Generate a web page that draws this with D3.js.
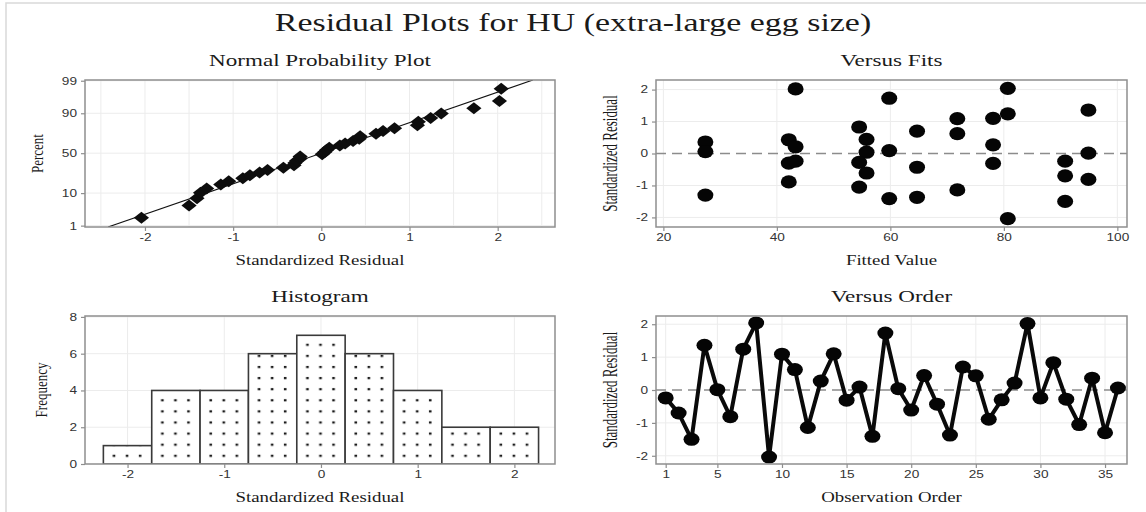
<!DOCTYPE html>
<html>
<head>
<meta charset="utf-8">
<script src="https://cdn.jsdelivr.net/npm/d3@7/dist/d3.min.js"></script>
<style>
  html, body { margin: 0; padding: 0; background: #fff; }
  svg { display: block; }
</style>
</head>
<body>
<svg id="chart" width="1146" height="512"></svg>
<script>
// ---- data -------------------------------------------------------------
// standardized residuals, listed in observation order
const observations = d3.range(1, 37);
const residuals = [-0.24, -0.70, -1.50, 1.36, 0.01, -0.81, 1.24, 2.04, -2.04,
                   1.09, 0.62, -1.14, 0.27, 1.10, -0.31, 0.09, -1.41, 1.73,
                   0.04, -0.61, 0.44, -0.43, -1.37, 0.70, 0.43, -0.89, -0.30,
                   0.21, 2.02, -0.24, 0.83, -0.28, -1.05, 0.36, -1.30, 0.06];
// fitted value of each observation
const fittedValues = [90.8, 90.8, 90.8, 94.9, 94.9, 94.9, 80.7, 80.7, 80.7,
                      71.8, 71.8, 71.8, 78.1, 78.1, 78.1, 59.8, 59.8, 59.8,
                      55.8, 55.8, 55.8, 64.7, 64.7, 64.7, 42.1, 42.1, 42.1,
                      43.3, 43.3, 43.3, 54.5, 54.5, 54.5, 27.4, 27.4, 27.4];
// histogram bins (midpoints, width 0.5) and their counts
const binMids = [-2, -1.5, -1, -0.5, 0, 0.5, 1, 1.5, 2];
const binCounts = [1, 4, 4, 6, 7, 6, 4, 2, 2];

// tick labels
const percentTicks = [1, 10, 50, 90, 99];
const residualXTicks = [-2, -1, 0, 1, 2];
const residualYTicks = [-2, -1, 0, 1, 2];
const fitTicks = [20, 40, 60, 80, 100];
const orderTicks = [1, 5, 10, 15, 20, 25, 30, 35];
const freqTicks = [0, 2, 4, 6, 8];

// ---- helpers ----------------------------------------------------------
// inverse standard normal CDF (Acklam's rational approximation)
function probit(p) {
  const a = [-3.969683028665376e+01, 2.209460984245205e+02, -2.759285104469687e+02,
             1.383577518672690e+02, -3.066479806614716e+01, 2.506628277459239e+00];
  const b = [-5.447609879822406e+01, 1.615858368580409e+02, -1.556989798598866e+02,
             6.680131188771972e+01, -1.328068155288572e+01];
  const c = [-7.784894002430293e-03, -3.223964580411365e-01, -2.400758277161838e+00,
             -2.549732539343734e+00, 4.374664141464968e+00, 2.938163982698783e+00];
  const d = [7.784695709041462e-03, 3.224671290700398e-01, 2.445134137142996e+00,
             3.754408661907416e+00];
  const pl = 0.02425, ph = 1 - pl;
  let q, r;
  if (p < pl) {
    q = Math.sqrt(-2 * Math.log(p));
    return (((((c[0]*q+c[1])*q+c[2])*q+c[3])*q+c[4])*q+c[5]) / ((((d[0]*q+d[1])*q+d[2])*q+d[3])*q+1);
  }
  if (p <= ph) {
    q = p - 0.5; r = q * q;
    return (((((a[0]*r+a[1])*r+a[2])*r+a[3])*r+a[4])*r+a[5])*q / (((((b[0]*r+b[1])*r+b[2])*r+b[3])*r+b[4])*r+1);
  }
  q = Math.sqrt(-2 * Math.log(1 - p));
  return -(((((c[0]*q+c[1])*q+c[2])*q+c[3])*q+c[4])*q+c[5]) / ((((d[0]*q+d[1])*q+d[2])*q+d[3])*q+1);
}

const SERIF = "'Liberation Serif', 'Times New Roman', serif";
const SANS = "'Liberation Sans', Arial, sans-serif";
const GRID = "#ececec";
const FRAME = "#8e8e8e";
const TICK_SX = 1.3;       // horizontal stretch of tick labels
const svg = d3.select("#chart");
const W = 1146, H = 512;

function addText(parent, str, x, y, o) {
  const tf = `translate(${x},${y}) scale(${o.sx || 1},1)` + (o.rotate ? " rotate(-90)" : "");
  return parent.append("text")
    .attr("transform", tf)
    .attr("text-anchor", o.anchor || "middle")
    .attr("dy", o.dy || null)
    .style("font-family", o.family || SERIF)
    .style("font-size", o.size + "px")
    .attr("fill", o.fill || "#1a1a1a")
    .text(str);
}

function styleAxis(sel, orient) {
  sel.select(".domain").remove();
  sel.selectAll(".tick line").attr("stroke", FRAME).attr("stroke-width", 1.2);
  const t = sel.selectAll(".tick text")
    .style("font-family", SANS).style("font-size", "10.5px").attr("fill", "#333")
    .attr("transform", `scale(${TICK_SX},1)`);
  if (orient === "left") t.attr("x", -8 / TICK_SX);
}

let clipCount = 0;
function panel(box, x, y, cfg) {
  const g = svg.append("g");
  const id = "clip" + (clipCount++);
  g.append("clipPath").attr("id", id).append("rect")
    .attr("x", box.x0).attr("y", box.y0)
    .attr("width", box.x1 - box.x0).attr("height", box.y1 - box.y0);

  // grid
  const grid = g.append("g");
  grid.selectAll("line.gx").data(cfg.xGrid).join("line").attr("class", "gx")
    .attr("x1", d => x(d)).attr("x2", d => x(d))
    .attr("y1", box.y0).attr("y2", box.y1)
    .attr("stroke", GRID).attr("stroke-width", 1);
  grid.selectAll("line.gy").data(cfg.yGrid).join("line").attr("class", "gy")
    .attr("y1", d => y(d)).attr("y2", d => y(d))
    .attr("x1", box.x0).attr("x2", box.x1)
    .attr("stroke", GRID).attr("stroke-width", 1);

  const plot = g.append("g").attr("clip-path", `url(#${id})`);

  // axes
  const xa = g.append("g").attr("transform", `translate(0,${box.y1})`)
    .call(d3.axisBottom(x).tickValues(cfg.xTicks).tickSize(4).tickPadding(3)
      .tickFormat(cfg.xFormat || (d => String(d))));
  styleAxis(xa, "bottom");
  const ya = g.append("g").attr("transform", `translate(${box.x0},0)`)
    .call(d3.axisLeft(y).tickValues(cfg.yTicks).tickSize(4).tickPadding(4)
      .tickFormat(cfg.yFormat || (d => String(d))));
  styleAxis(ya, "left");

  // titles
  const cx = (box.x0 + box.x1) / 2;
  addText(g, cfg.title, cx, box.y0 - 14, { size: 17.5, sx: 1.32 });
  addText(g, cfg.xLabel, cx, box.y1 + 38, { size: 14.5, sx: 1.3 });
  addText(g, cfg.yLabel, cfg.yLabelX, (box.y0 + box.y1) / 2,
          { size: 13, sx: cfg.yLabelSx, rotate: true, dy: "0.35em" });

  const frame = () => g.append("rect")
    .attr("x", box.x0).attr("y", box.y0)
    .attr("width", box.x1 - box.x0).attr("height", box.y1 - box.y0)
    .attr("fill", "none").attr("stroke", FRAME).attr("stroke-width", 1.5);
  return { g, plot, frame };
}

// outer frame of the figure
svg.append("rect").attr("x", 6).attr("y", 3).attr("width", W + 20).attr("height", H + 20)
  .attr("fill", "none").attr("stroke", "#d9d9d9").attr("stroke-width", 1.5);

// main title
addText(svg, "Residual Plots for HU (extra-large egg size)", W / 2, 31, { size: 25.5, sx: 1.33 });

// ---- Normal probability plot ------------------------------------------
{
  const box = { x0: 85, x1: 555, y0: 80, y1: 227 };
  const x = d3.scaleLinear().domain([-2.68, 2.65]).range([box.x0, box.x1]);
  const y = d3.scaleLinear().domain([-2.37, 2.35]).range([box.y1, box.y0]);
  const pctLabel = new Map(percentTicks.map(p => [probit(p / 100), p]));
  const p = panel(box, x, y, {
    xGrid: d3.range(-2.5, 2.51, 0.5), yGrid: [...pctLabel.keys()],
    xTicks: residualXTicks, yTicks: [...pctLabel.keys()],
    yFormat: z => String(pctLabel.get(z)),
    title: "Normal Probability Plot", xLabel: "Standardized Residual",
    yLabel: "Percent", yLabelX: 37, yLabelSx: 1.3
  });
  const n = residuals.length;
  const mu = d3.mean(residuals), sd = d3.deviation(residuals);
  // fitted normal line
  const zEnds = y.domain();
  p.plot.append("line")
    .attr("x1", x(mu + sd * zEnds[0])).attr("y1", y(zEnds[0]))
    .attr("x2", x(mu + sd * zEnds[1])).attr("y2", y(zEnds[1]))
    .attr("stroke", "#111").attr("stroke-width", 1.1);
  // median-rank plotting positions
  const sorted = residuals.slice().sort(d3.ascending);
  const pts = sorted.map((r, i) => ({ r, z: probit((i + 1 - 0.3) / (n + 0.4)) }));
  p.plot.selectAll("path.dm").data(pts).join("path").attr("class", "dm")
    .attr("transform", d => `translate(${x(d.r)},${y(d.z)})`)
    .attr("d", "M0,-6L7.6,0L0,6L-7.6,0Z")
    .attr("fill", "#0d0d0d");
  p.frame();
}

// ---- Versus fits ----------------------------------------------------------
{
  const box = { x0: 656, x1: 1127, y0: 80, y1: 227 };
  const x = d3.scaleLinear().domain([18.7, 101.7]).range([box.x0, box.x1]);
  const y = d3.scaleLinear().domain([-2.3, 2.3]).range([box.y1, box.y0]);
  const p = panel(box, x, y, {
    xGrid: fitTicks, yGrid: residualYTicks.filter(v => v !== 0),
    xTicks: fitTicks, yTicks: residualYTicks,
    title: "Versus Fits", xLabel: "Fitted Value",
    yLabel: "Standardized Residual", yLabelX: 610, yLabelSx: 1.55
  });
  p.plot.append("line").attr("x1", box.x0).attr("x2", box.x1)
    .attr("y1", y(0)).attr("y2", y(0))
    .attr("stroke", "#8c8c8c").attr("stroke-width", 1.4).attr("stroke-dasharray", "10,6");
  p.plot.selectAll("ellipse").data(observations).join("ellipse")
    .attr("cx", i => x(fittedValues[i - 1])).attr("cy", i => y(residuals[i - 1]))
    .attr("rx", 8).attr("ry", 6.6).attr("fill", "#050505");
  p.frame();
}

// ---- Histogram --------------------------------------------------------
{
  const box = { x0: 85, x1: 555, y0: 316, y1: 464 };
  const x = d3.scaleLinear().domain([-2.44, 2.42]).range([box.x0, box.x1]);
  const y = d3.scaleLinear().domain([0, 8.05]).range([box.y1, box.y0]);
  const p = panel(box, x, y, {
    xGrid: residualXTicks, yGrid: [2, 4, 6, 8],
    xTicks: residualXTicks, yTicks: freqTicks,
    title: "Histogram", xLabel: "Standardized Residual",
    yLabel: "Frequency", yLabelX: 41, yLabelSx: 1.3
  });
  const defs = svg.append("defs");
  const bars = binMids.map((m, i) => ({ m, c: binCounts[i], i }));
  const rowGap = 11.1;
  // dotted fill, one tile per bar so the dot columns sit inside each bar
  bars.forEach(b => {
    const x0 = x(b.m - 0.25), bw = x(b.m + 0.25) - x0;
    const pat = defs.append("pattern").attr("id", "dots" + b.i)
      .attr("patternUnits", "userSpaceOnUse")
      .attr("x", x0).attr("y", box.y1).attr("width", bw).attr("height", rowGap);
    pat.append("rect").attr("width", bw).attr("height", rowGap).attr("fill", "#fff");
    [0.22, 0.49, 0.76].forEach(f => pat.append("rect")
      .attr("x", bw * f - 1.3).attr("y", 1.8).attr("width", 2.6).attr("height", 2.2)
      .attr("fill", "#1a1a1a"));
  });
  p.plot.selectAll("rect.bar").data(bars).join("rect").attr("class", "bar")
    .attr("x", d => x(d.m - 0.25)).attr("width", d => x(d.m + 0.25) - x(d.m - 0.25))
    .attr("y", d => y(d.c)).attr("height", d => y(0) - y(d.c))
    .attr("fill", d => `url(#dots${d.i})`)
    .attr("stroke", "#3a3a3a").attr("stroke-width", 1.6);
  p.frame();
}

// ---- Versus order -----------------------------------------------------
{
  const box = { x0: 656, x1: 1127, y0: 316, y1: 464 };
  const x = d3.scaleLinear().domain([0.25, 36.7]).range([box.x0, box.x1]);
  const y = d3.scaleLinear().domain([-2.25, 2.25]).range([box.y1, box.y0]);
  const p = panel(box, x, y, {
    xGrid: orderTicks, yGrid: residualYTicks.filter(v => v !== 0),
    xTicks: orderTicks, yTicks: residualYTicks,
    title: "Versus Order", xLabel: "Observation Order",
    yLabel: "Standardized Residual", yLabelX: 610, yLabelSx: 1.55
  });
  p.plot.append("line").attr("x1", box.x0).attr("x2", box.x1)
    .attr("y1", y(0)).attr("y2", y(0))
    .attr("stroke", "#8c8c8c").attr("stroke-width", 1.4).attr("stroke-dasharray", "10,6");
  const line = d3.line().x(i => x(i)).y(i => y(residuals[i - 1]));
  p.plot.append("path").datum(observations).attr("d", line)
    .attr("fill", "none").attr("stroke", "#0a0a0a").attr("stroke-width", 4)
    .attr("stroke-linejoin", "round");
  p.plot.selectAll("ellipse").data(observations).join("ellipse")
    .attr("cx", i => x(i)).attr("cy", i => y(residuals[i - 1]))
    .attr("rx", 8).attr("ry", 6.5).attr("fill", "#050505");
  p.frame();
}
</script>
</body>
</html>
